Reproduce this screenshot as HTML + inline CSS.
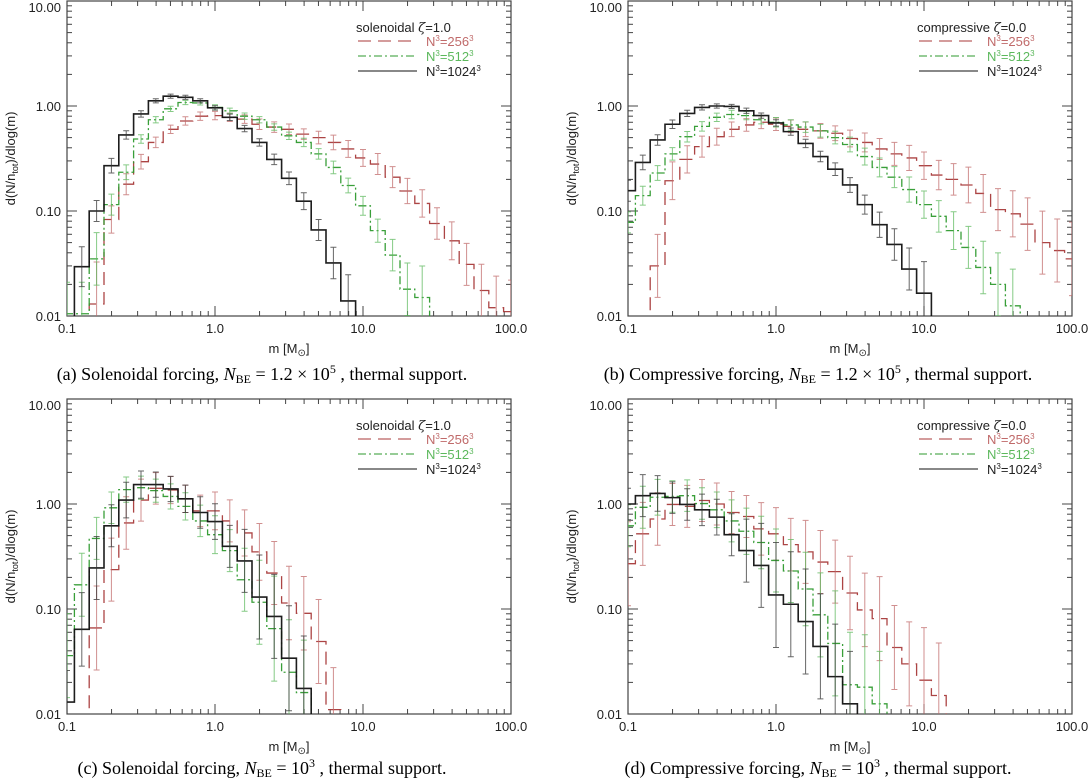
<!DOCTYPE html>
<html><head><meta charset="utf-8"><style>
html,body{margin:0;padding:0;background:#fff;overflow:hidden;width:1092px;height:782px;}
svg{display:block;font-family:"Liberation Sans",sans-serif;}
.cap{font-family:"Liberation Serif",serif;font-size:18px;fill:#000;}
</style></head><body>
<svg id="fig" width="1092" height="782" viewBox="0 0 1092 782"></svg>
<script>
// ---- data (bin k centred at log10(m) = -1 + 0.1k) ----
const tickLabelsY = ["0.01","0.10","1.00","10.00"];
const tickLabelsX = ["0.1","1.0","10.0","100.0"];
const a_black = [0,0.0295,0.10,0.27,0.53,0.84,1.12,1.24,1.21,1.12,0.96,0.78,0.61,0.45,0.31,0.205,0.124,0.066,0.032,0.0139,0];
const a_black_err = [0,0.19,0.1,0.07,0.04,0.03,0.02,0.02,0.02,0.02,0.02,0.03,0.03,0.035,0.05,0.06,0.08,0.1,0.15,0.25,0];
const a_red = [0,0,0.013,0.083,0.18,0.295,0.45,0.60,0.72,0.80,0.81,0.78,0.75,0.67,0.63,0.60,0.54,0.50,0.45,0.39,0.32,0.28,0.21,0.155,0.118,0.076,0.052,0.031,0.0175,0.012,0.011];
const a_red_err = [0,0,0.4,0.13,0.1,0.07,0.05,0.04,0.04,0.04,0.04,0.04,0.04,0.05,0.05,0.05,0.05,0.06,0.07,0.08,0.08,0.1,0.1,0.12,0.13,0.15,0.18,0.2,0.25,0.3,0.3];
const a_green = [0.0105,0.0105,0.035,0.115,0.234,0.485,0.74,0.94,1.08,1.07,0.97,0.90,0.80,0.74,0.63,0.52,0.45,0.35,0.26,0.175,0.112,0.065,0.038,0.018,0.015];
const a_green_err = [0.3,0.3,0.25,0.1,0.07,0.04,0.03,0.025,0.02,0.02,0.025,0.025,0.03,0.03,0.03,0.035,0.04,0.05,0.06,0.07,0.09,0.11,0.15,0.25,0.3];
const b_black = [0.156,0.29,0.475,0.67,0.85,0.97,1.0,0.99,0.90,0.81,0.69,0.57,0.44,0.33,0.25,0.177,0.115,0.074,0.048,0.028,0.0165];
const b_black_err = [0.1,0.07,0.05,0.04,0.03,0.025,0.02,0.02,0.025,0.025,0.03,0.035,0.04,0.05,0.06,0.07,0.09,0.12,0.15,0.2,0.3];
const b_red = [0,0,0.03,0.194,0.31,0.41,0.51,0.6,0.66,0.70,0.67,0.64,0.60,0.58,0.55,0.49,0.45,0.39,0.35,0.32,0.27,0.22,0.2,0.177,0.147,0.103,0.094,0.075,0.05,0.042,0.035];
const b_red_err = [0,0,0.3,0.18,0.13,0.1,0.08,0.07,0.06,0.06,0.06,0.06,0.07,0.07,0.07,0.08,0.09,0.1,0.11,0.12,0.13,0.14,0.15,0.17,0.18,0.2,0.22,0.25,0.3,0.3,0.35];
const b_green = [0.078,0.14,0.23,0.35,0.51,0.64,0.78,0.83,0.81,0.74,0.70,0.66,0.63,0.58,0.50,0.43,0.33,0.26,0.21,0.16,0.115,0.089,0.065,0.045,0.029,0.02,0.0125];
const b_green_err = [0.1,0.09,0.07,0.06,0.05,0.045,0.04,0.04,0.04,0.04,0.045,0.05,0.05,0.06,0.06,0.07,0.08,0.09,0.1,0.12,0.13,0.15,0.18,0.2,0.25,0.3,0.35];
const c_black = [0.013,0.064,0.246,0.62,1.09,1.53,1.53,1.39,1.12,0.83,0.68,0.395,0.287,0.13,0.085,0.034,0.0175];
const c_black_err = [0.3,0.35,0.3,0.2,0.17,0.13,0.12,0.12,0.13,0.15,0.17,0.2,0.3,0.4,0.4,0.5,0.5];
const c_red = [0,0,0.066,0.237,0.66,1.09,1.41,1.36,1.12,0.86,0.86,0.69,0.53,0.35,0.22,0.114,0.091,0.049,0.011];
const c_red_err = [0,0,0.4,0.3,0.25,0.2,0.15,0.13,0.13,0.15,0.18,0.2,0.22,0.27,0.3,0.35,0.35,0.4,0.4];
const c_green = [0.036,0.17,0.47,0.92,1.37,1.43,1.34,1.18,0.95,0.69,0.51,0.36,0.19,0.116,0.065,0.025,0.016];
const c_green_err = [0.4,0.3,0.2,0.15,0.12,0.11,0.11,0.12,0.13,0.15,0.18,0.2,0.3,0.4,0.5,0.5,0.5];
const d_black = [1.0,1.2,1.26,1.15,0.99,0.88,0.75,0.51,0.36,0.26,0.136,0.111,0.076,0.044,0.0227,0.0125];
const d_black_err = [0.15,0.2,0.17,0.15,0.15,0.15,0.17,0.2,0.3,0.4,0.5,0.5,0.5,0.5,0.5,0.5];
const d_red = [0.27,0.52,0.72,0.99,0.95,1.08,1.0,0.83,0.76,0.58,0.52,0.41,0.35,0.28,0.227,0.142,0.098,0.081,0.043,0.03,0.021,0.015];
const d_red_err = [0.4,0.3,0.25,0.2,0.2,0.2,0.2,0.2,0.2,0.25,0.25,0.25,0.3,0.3,0.3,0.35,0.35,0.4,0.4,0.4,0.5,0.5];
const d_green = [0.62,0.93,1.16,1.18,1.2,1.01,0.88,0.69,0.55,0.43,0.29,0.23,0.155,0.088,0.047,0.019,0.018,0.0125];
const d_green_err = [0.2,0.2,0.17,0.15,0.15,0.15,0.17,0.2,0.22,0.25,0.3,0.3,0.35,0.4,0.5,0.5,0.5,0.5];

const NS='http://www.w3.org/2000/svg';
const svg=document.getElementById('fig');
function el(tag,attrs,parent){const e=document.createElementNS(NS,tag);for(const k in attrs)e.setAttribute(k,attrs[k]);(parent||svg).appendChild(e);return e;}

const panels=[
 {id:'a',x0:67,y0:1,lab:'solenoidal',z:'1.0',s:[a_red,a_green,a_black],e:[a_red_err,a_green_err,a_black_err],cap:'(a)  Solenoidal forcing, ',capN:'1.2 × 10',capE:'5',capx:262,capy:380},
 {id:'b',x0:628,y0:1,lab:'compressive',z:'0.0',s:[b_red,b_green,b_black],e:[b_red_err,b_green_err,b_black_err],cap:'(b)  Compressive forcing, ',capN:'1.2 × 10',capE:'5',capx:818,capy:380},
 {id:'c',x0:67,y0:399,lab:'solenoidal',z:'1.0',s:[c_red,c_green,c_black],e:[c_red_err,c_green_err,c_black_err],cap:'(c)  Solenoidal forcing, ',capN:'10',capE:'3',capx:262,capy:774},
 {id:'d',x0:628,y0:399,lab:'compressive',z:'0.0',s:[d_red,d_green,d_black],e:[d_red_err,d_green_err,d_black_err],cap:'(d)  Compressive forcing, ',capN:'10',capE:'3',capx:818,capy:774}
];
const W=444,DEC=105,XDEC=148;
const styles=[
 {c:'#a83a3a',ec:'#c06a6a',dash:'13,7',w:1.3,name:'n256'},
 {c:'#2e9a2e',ec:'#5cb85c',dash:'8,3,2,3',w:1.3,name:'n512'},
 {c:'#111',ec:'#333',dash:'',w:1.6,name:'n1024'}
];

panels.forEach(p=>{
 const H=3*DEC;
 const X=lm=>p.x0+(lm+1)*XDEC;
 const Y=v=>p.y0+H-(Math.log10(Math.max(v,1e-4))+2)*DEC;
 const g=el('g',{});
 
 
 const clip=el('clipPath',{id:'clip'+p.id},g);
 el('rect',{x:p.x0,y:p.y0,width:W,height:H},clip);
 const tg=el('g',{stroke:'#444','stroke-width':1},g);
 
 
 for(let d=0;d<3;d++)for(let m=1;m<10;m++){
  const l=Math.log10(m)+d-1, x=X(l), len=m==1?10:5;
  if(x>p.x0&&x<p.x0+W){el('line',{x1:x,y1:p.y0+H,x2:x,y2:p.y0+H-len},tg);el('line',{x1:x,y1:p.y0,x2:x,y2:p.y0+len},tg);}
  const yy=p.y0+H-(Math.log10(m)+d)*DEC;
  if(yy>p.y0&&yy<p.y0+H){el('line',{x1:p.x0,y1:yy,x2:p.x0+len,y2:yy},tg);el('line',{x1:p.x0+W,y1:yy,x2:p.x0+W-len,y2:yy},tg);}
 }
 el('rect',{x:p.x0,y:p.y0,width:W,height:H,fill:'none',stroke:'#444','stroke-width':1.2},g);
 tickLabelsY.forEach((t,i)=>{
  const yy=Math.max(p.y0+H-i*DEC,p.y0+6);
  const tx=el('text',{x:p.x0-6,y:yy+5,'text-anchor':'end','font-size':13,fill:'#222'},g);
  tx.textContent=t;
  
  
 });
 tickLabelsX.forEach((t,i)=>{
  const tx=el('text',{x:p.x0+i*XDEC,y:p.y0+H+17,'text-anchor':'middle','font-size':13,fill:'#222'},g);
  tx.textContent=t;
  
  
 });
 const yt=el('text',{x:0,y:0,transform:`translate(${p.x0-52},${p.y0+H/2}) rotate(-90)`,'text-anchor':'middle','font-size':13,fill:'#222'},g);
 yt.innerHTML='d(N/n<tspan font-size="9" dy="3">tot</tspan><tspan dy="-3">)/dlog(m)</tspan>';
 
 
 const xt=el('text',{x:p.x0+W/2,y:p.y0+H+37,'text-anchor':'middle','font-size':13,fill:'#222'},g);
 xt.innerHTML='m [M<tspan font-size="10" dy="3">⊙</tspan><tspan dy="-3">]</tspan>';
 
 
 const dg=el('g',{'clip-path':`url(#clip${p.id})`},g);
 p.s.forEach((vals,si)=>{
  const st=styles[si], errs=p.e[si];
  let d='';
  vals.forEach((v,k)=>{
   const xl=X(-1+0.1*k-0.05), xr=X(-1+0.1*k+0.05);
   const y=Y(v>0?v:1e-4);
   d+=(k==0?'M':'L')+Math.max(xl,p.x0-2)+','+y+'L'+xr+','+y;
  });
  d+='L'+X(-1+0.1*vals.length-0.05)+','+Y(1e-4);
  const path=el('path',{d:d,fill:'none',stroke:st.c,'stroke-width':st.w,'stroke-dasharray':st.dash,opacity:0.95},dg);
  
  
  vals.forEach((v,k)=>{
   if(!(v>0))return;
   const e=errs[k]||0.1, x=X(-1+0.1*k);
   const y1=Y(v*Math.pow(10,e)), y2=Y(v*Math.pow(10,-e));
   const eb=el('path',{d:`M${x},${y1}L${x},${y2}M${x-3},${y1}L${x+3},${y1}M${x-3},${y2}L${x+3},${y2}`,stroke:st.ec,'stroke-width':1,fill:'none',opacity:0.75},dg);
   
   
  });
 });
 const lx=p.id=='a'||p.id=='c'?356:917;
 const ly=p.y0+31;
 const lg=el('g',{'font-size':13},g);
 
 
 const lt=el('text',{x:lx,y:ly,fill:'#222'},lg);
 lt.innerHTML=p.lab+'  <tspan font-family="DejaVu Serif" font-style="italic">ζ</tspan>='+p.z;
 const labs=['256','512','1024'];
 styles.forEach((st,i)=>{
  const yy=ly+14+i*15;
  el('line',{x1:lx+2,y1:yy-5,x2:lx+61,y2:yy-5,stroke:st.c,'stroke-width':1.1,'stroke-dasharray':st.dash},lg);
  const t=el('text',{x:lx+70,y:yy,fill:i==2?'#222':st.ec},lg);
  t.innerHTML='N<tspan font-size="8" dy="-5">3</tspan><tspan dy="5">='+labs[i]+'</tspan><tspan font-size="8" dy="-5">3</tspan>';
  
  
 });
 const cp=el('text',{x:p.capx,y:p.capy,'text-anchor':'middle',class:'cap'},svg);
 cp.innerHTML=p.cap+'<tspan font-style="italic">N</tspan><tspan font-size="12" dy="3">BE</tspan><tspan dy="-3"> = '+p.capN+'</tspan><tspan font-size="12" dy="-7">'+p.capE+'</tspan><tspan dy="7"> , thermal support.</tspan>';
 
 
});
</script>
</body></html>
